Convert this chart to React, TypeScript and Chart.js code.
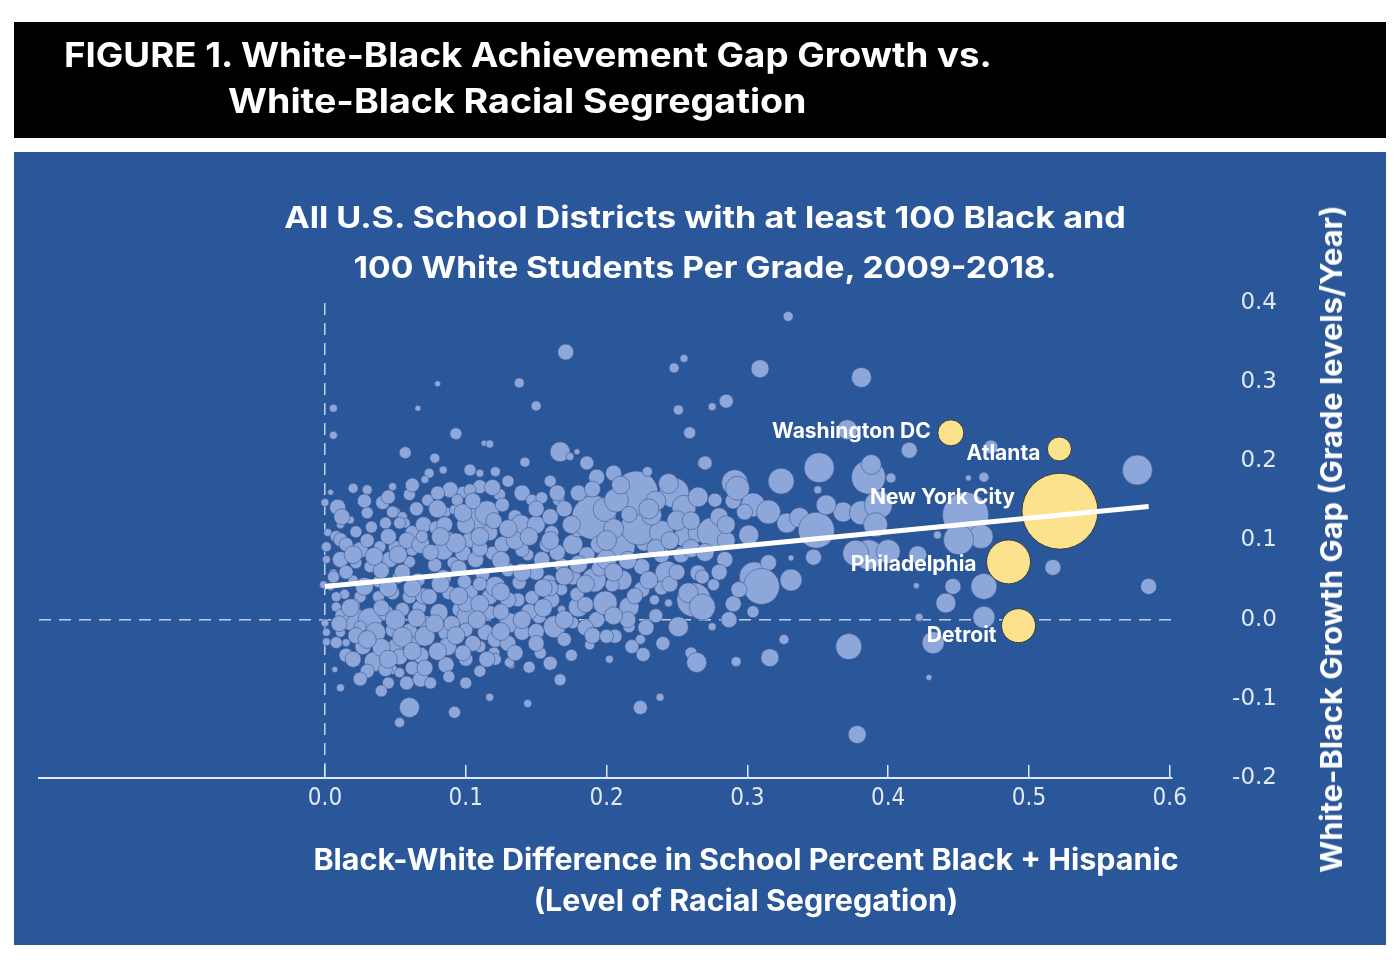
import React, { useEffect, useLayoutEffect, useRef } from 'react';
import { Chart, registerables } from 'chart.js';

Chart.register(...registerables);

// ---------- DATA ----------
// Each district: [segregation (x), growth gap (y), bubble size]
const districtsLowSeg: number[][] = [
  [0.006, 0.267, 4], [0.006, 0.233, 4], [0.057, 0.211, 6], [0.066, 0.267, 3], [0.020, 0.166, 5],
  [0.004, 0.161, 3], [0.048, 0.168, 4], [0.060, 0.158, 6], [0.009, 0.142, 8], [0.041, 0.148, 7],
  [0.000, 0.148, 4], [0.050, 0.136, 5], [0.055, 0.130, 5], [0.043, 0.122, 6], [0.057, 0.122, 5],
  [0.011, 0.120, 4], [0.018, 0.126, 4], [0.022, 0.111, 6], [0.033, 0.117, 6], [0.002, 0.110, 4],
  [0.008, 0.105, 6], [0.001, 0.092, 5], [0.025, 0.088, 8], [0.039, 0.092, 6], [0.050, 0.091, 7],
  [0.062, 0.088, 6], [0.011, 0.076, 8], [0.022, 0.072, 6], [0.046, 0.076, 8], [0.060, 0.073, 6],
  [0.006, 0.059, 4], [0.032, 0.067, 6], [0.004, 0.042, 4], [0.014, 0.032, 5], [0.025, 0.029, 6],
  [0.038, 0.029, 6], [0.048, 0.034, 7], [0.060, 0.029, 7], [0.008, 0.016, 5], [0.018, 0.003, 13],
  [0.032, 0.000, 12], [0.043, 0.009, 8], [0.055, 0.013, 7], [0.067, 0.015, 7], [0.001, -0.016, 4],
  [0.011, -0.016, 5], [0.025, -0.009, 6], [0.036, -0.016, 10], [0.048, -0.013, 7], [0.060, -0.015, 8],
  [0.008, -0.029, 6], [0.027, -0.034, 8], [0.050, -0.034, 8], [0.064, -0.029, 6], [0.035, -0.053, 10],
  [0.053, -0.047, 8], [0.062, -0.061, 7], [0.007, -0.063, 3], [0.048, -0.063, 5], [0.053, -0.067, 5],
  [0.011, -0.086, 4], [0.060, -0.111, 10], [0.053, -0.130, 5], [0.011, 0.101, 7], [0.001, 0.076, 4],
  [0.006, 0.054, 6], [-0.001, 0.044, 4], [0.008, 0.029, 5], [0.000, -0.004, 4], [0.001, -0.028, 4],
  [0.015, -0.029, 4], [0.043, -0.063, 7], [0.066, 0.050, 7], [0.052, 0.053, 6], [0.038, 0.048, 6],
  [0.020, 0.050, 5], [0.030, 0.164, 5], [0.062, 0.110, 7], [0.048, 0.136, 6], [0.053, 0.122, 6],
  [0.015, -0.045, 7], [0.022, -0.020, 8], [0.040, -0.035, 9], [0.030, -0.065, 7], [0.045, -0.080, 6],
  [0.058, -0.080, 7], [0.068, -0.045, 8], [0.072, -0.005, 8], [0.040, 0.015, 8], [0.020, 0.018, 7],
  [0.070, 0.030, 8], [0.012, 0.005, 7], [0.015, 0.095, 7], [0.030, 0.100, 7], [0.045, 0.105, 8],
  [0.058, 0.100, 8], [0.070, 0.120, 8], [0.015, 0.060, 7], [0.040, 0.062, 8], [0.055, 0.060, 8],
  [0.030, 0.135, 6], [0.065, 0.140, 7],
  [0.012, 0.130, 8], [0.028, 0.150, 7], [0.045, 0.155, 7], [0.062, 0.170, 7], [0.020, 0.082, 9],
  [0.035, 0.080, 9], [0.052, 0.082, 9], [0.068, 0.095, 9], [0.028, 0.042, 9], [0.045, 0.040, 9],
  [0.062, 0.040, 9], [0.018, 0.015, 9], [0.050, 0.000, 10], [0.065, 0.002, 9], [0.010, -0.005, 8],
  [0.030, -0.025, 9], [0.055, -0.022, 10], [0.020, -0.050, 8], [0.045, -0.050, 9], [0.062, -0.040, 9],
  [0.025, -0.075, 7], [0.040, -0.090, 6], [0.068, -0.075, 8],
];

const districtsMidSeg: number[][] = [
  [0.078, 0.204, 5], [0.089, 0.164, 8], [0.098, 0.161, 6], [0.110, 0.168, 7], [0.074, 0.185, 5],
  [0.084, 0.189, 4], [0.103, 0.189, 6], [0.110, 0.185, 4], [0.121, 0.187, 5], [0.071, 0.177, 4],
  [0.093, 0.235, 6], [0.113, 0.223, 3], [0.117, 0.222, 4], [0.080, 0.298, 3], [0.138, 0.299, 5],
  [0.150, 0.270, 5], [0.171, 0.338, 8], [0.110, 0.130, 14], [0.086, 0.136, 5], [0.092, 0.139, 5],
  [0.079, 0.116, 7], [0.069, 0.105, 6], [0.088, 0.101, 8], [0.103, 0.101, 8], [0.117, 0.110, 8],
  [0.084, 0.088, 10], [0.098, 0.084, 8], [0.078, 0.069, 7], [0.091, 0.072, 6], [0.107, 0.076, 8],
  [0.119, 0.084, 7], [0.074, 0.029, 8], [0.088, 0.034, 7], [0.103, 0.034, 8], [0.117, 0.029, 8],
  [0.081, 0.009, 9], [0.096, 0.013, 8], [0.103, 0.004, 13], [0.117, 0.009, 7], [0.071, -0.021, 10],
  [0.086, -0.016, 8], [0.100, -0.013, 7], [0.114, -0.016, 8], [0.110, -0.034, 6], [0.120, -0.042, 6],
  [0.142, 0.199, 5], [0.124, 0.158, 6], [0.140, 0.160, 8], [0.147, 0.151, 6], [0.154, 0.154, 6],
  [0.166, 0.151, 6], [0.167, 0.212, 10], [0.179, 0.212, 3], [0.174, 0.206, 4], [0.186, 0.198, 7],
  [0.193, 0.180, 8], [0.188, 0.154, 6], [0.115, 0.135, 12], [0.135, 0.130, 7], [0.161, 0.110, 7],
  [0.176, 0.095, 10], [0.180, 0.117, 10], [0.191, 0.129, 22], [0.199, 0.139, 12], [0.121, 0.042, 10],
  [0.138, 0.047, 7], [0.159, 0.048, 7], [0.176, 0.054, 8], [0.191, 0.050, 12], [0.126, 0.095, 8],
  [0.139, 0.120, 10], [0.131, -0.004, 10], [0.121, -0.025, 8], [0.140, -0.016, 8], [0.152, 0.004, 7],
  [0.163, -0.009, 11], [0.168, 0.013, 4], [0.176, -0.004, 6], [0.180, 0.016, 10], [0.193, 0.000, 8],
  [0.121, -0.050, 6], [0.132, -0.057, 4], [0.137, 0.025, 7], [0.154, 0.076, 8], [0.168, 0.069, 7],
  [0.144, 0.082, 6], [0.130, 0.063, 7], [0.071, -0.061, 8], [0.086, -0.057, 8], [0.088, -0.072, 6],
  [0.087, -0.034, 9], [0.092, -0.117, 6], [0.117, -0.098, 4], [0.131, -0.054, 5], [0.153, -0.042, 6],
  [0.167, -0.076, 6], [0.144, -0.106, 4], [0.188, -0.032, 5], [0.093, 0.097, 10], [0.084, 0.053, 8],
  [0.099, 0.048, 7], [0.112, 0.057, 7], [0.130, 0.025, 8], [0.147, 0.028, 7], [0.161, 0.025, 8],
  [0.179, 0.032, 7], [0.140, 0.088, 7], [0.158, 0.095, 8], [0.186, 0.082, 8], [0.073, 0.151, 6],
  [0.126, 0.145, 7], [0.094, 0.151, 6], [0.185, 0.019, 8], [0.168, 0.038, 6], [0.103, 0.164, 6],
  [0.119, 0.167, 8], [0.085, 0.120, 8], [0.075, 0.085, 8], [0.100, 0.120, 9], [0.120, 0.125, 8],
  [0.080, 0.160, 7], [0.095, 0.065, 8], [0.110, 0.090, 8], [0.125, 0.075, 9], [0.135, 0.100, 9],
  [0.150, 0.120, 9], [0.160, 0.130, 8], [0.170, 0.140, 8], [0.150, 0.060, 8], [0.165, 0.085, 8],
  [0.180, 0.070, 9], [0.195, 0.095, 9], [0.195, 0.065, 8], [0.100, 0.020, 8], [0.110, 0.045, 7],
  [0.125, 0.010, 8], [0.145, 0.010, 8], [0.160, 0.040, 8], [0.090, -0.005, 8], [0.105, -0.030, 8],
  [0.130, -0.030, 8], [0.150, -0.015, 8], [0.170, -0.025, 7], [0.185, -0.010, 8], [0.100, -0.050, 7],
  [0.110, -0.065, 6], [0.145, -0.060, 6], [0.160, -0.055, 7], [0.175, -0.045, 6], [0.180, 0.160, 8],
  [0.160, 0.175, 6], [0.130, 0.175, 6],
  [0.080, 0.140, 9], [0.098, 0.135, 9], [0.082, 0.045, 9], [0.095, 0.030, 9], [0.110, 0.020, 9],
  [0.125, 0.035, 9], [0.140, 0.060, 9], [0.155, 0.040, 9], [0.170, 0.055, 9], [0.185, 0.045, 9],
  [0.078, -0.005, 9], [0.093, -0.020, 9], [0.108, 0.000, 9], [0.125, -0.015, 9], [0.140, 0.000, 9],
  [0.155, 0.015, 9], [0.170, 0.000, 9], [0.190, -0.020, 8], [0.080, -0.040, 9], [0.098, -0.042, 8],
  [0.115, -0.050, 8], [0.135, -0.042, 8], [0.150, -0.030, 8], [0.082, 0.105, 9], [0.110, 0.105, 9],
  [0.130, 0.115, 9], [0.145, 0.105, 9], [0.160, 0.100, 9], [0.175, 0.120, 9], [0.105, 0.150, 8],
  [0.150, 0.140, 8], [0.165, 0.160, 8], [0.190, 0.165, 8], [0.075, -0.080, 6], [0.100, -0.080, 6],
];

const districtsUpperSeg: number[][] = [
  [0.199, 0.021, 12], [0.216, 0.016, 10], [0.206, -0.021, 7], [0.216, -0.009, 6], [0.224, -0.025, 5],
  [0.200, -0.021, 7], [0.218, -0.034, 7], [0.226, -0.044, 7], [0.202, -0.050, 4], [0.224, -0.111, 7],
  [0.238, -0.098, 4], [0.234, 0.025, 5], [0.244, 0.021, 4], [0.251, -0.009, 10], [0.262, 0.025, 17],
  [0.258, 0.034, 10], [0.260, -0.042, 6], [0.264, -0.054, 10], [0.211, 0.050, 10], [0.243, 0.059, 12],
  [0.265, 0.059, 8], [0.211, 0.092, 13], [0.227, 0.098, 9], [0.223, 0.117, 18], [0.239, 0.110, 12],
  [0.255, 0.105, 10], [0.221, 0.160, 22], [0.248, 0.160, 15], [0.255, 0.142, 12], [0.229, 0.187, 5],
  [0.268, 0.198, 5], [0.251, 0.265, 5], [0.259, 0.236, 6], [0.248, 0.318, 5], [0.255, 0.330, 4],
  [0.275, 0.269, 4], [0.285, 0.276, 7], [0.270, 0.198, 7], [0.265, 0.155, 10], [0.277, 0.151, 7],
  [0.265, 0.110, 10], [0.275, 0.110, 15], [0.284, 0.076, 8], [0.268, 0.054, 7], [0.276, 0.044, 6],
  [0.268, 0.016, 13], [0.287, 0.000, 8], [0.275, -0.009, 4], [0.292, -0.053, 5], [0.232, 0.132, 10],
  [0.207, 0.151, 12], [0.239, 0.082, 8], [0.200, 0.076, 10], [0.225, 0.067, 8], [0.253, 0.082, 8],
  [0.204, 0.044, 7], [0.225, 0.038, 8], [0.239, 0.040, 7], [0.244, 0.172, 10], [0.216, 0.133, 8],
  [0.205, 0.115, 10], [0.215, 0.075, 9], [0.235, 0.090, 9], [0.250, 0.125, 10], [0.260, 0.090, 9],
  [0.280, 0.130, 9], [0.285, 0.100, 9], [0.215, 0.000, 8], [0.235, 0.005, 7], [0.245, 0.045, 8],
  [0.280, 0.060, 8], [0.290, 0.020, 8], [0.205, 0.185, 8], [0.235, 0.150, 10],
  [0.200, 0.100, 10], [0.205, 0.060, 9], [0.230, 0.050, 9], [0.250, 0.060, 8], [0.245, 0.100, 9],
  [0.260, 0.125, 9], [0.270, 0.085, 9], [0.285, 0.120, 9], [0.290, 0.150, 8], [0.220, 0.030, 8],
  [0.205, 0.005, 9], [0.228, -0.010, 8], [0.240, -0.030, 7], [0.210, 0.170, 9], [0.230, 0.140, 10],
];

const districtsHighSeg: number[][] = [
  [0.291, 0.173, 13], [0.293, 0.166, 12], [0.304, 0.145, 12], [0.298, 0.136, 8], [0.315, 0.136, 12],
  [0.301, 0.107, 10], [0.328, 0.122, 10], [0.337, 0.129, 10], [0.349, 0.113, 18], [0.347, 0.079, 8],
  [0.331, 0.078, 3], [0.305, 0.054, 15], [0.315, 0.072, 8], [0.310, 0.042, 18], [0.331, 0.050, 11],
  [0.294, 0.038, 8], [0.304, 0.010, 6], [0.326, -0.025, 5], [0.316, -0.048, 9], [0.309, 0.317, 9],
  [0.329, 0.383, 5], [0.324, 0.175, 13], [0.351, 0.192, 15], [0.381, 0.306, 10], [0.386, 0.180, 17],
  [0.388, 0.196, 10], [0.402, 0.179, 5], [0.350, 0.164, 4], [0.368, 0.136, 10], [0.381, 0.135, 12],
  [0.386, 0.082, 15], [0.377, 0.084, 13], [0.372, -0.034, 13], [0.378, -0.145, 9], [0.371, 0.240, 10],
  [0.393, 0.145, 14], [0.391, 0.120, 12], [0.356, 0.145, 10], [0.415, 0.214, 8], [0.473, 0.218, 7],
  [0.457, 0.179, 3], [0.468, 0.180, 5], [0.577, 0.189, 15], [0.455, 0.132, 23], [0.466, 0.105, 12],
  [0.450, 0.101, 15], [0.435, 0.107, 4], [0.421, 0.082, 9], [0.517, 0.066, 8], [0.585, 0.042, 8],
  [0.468, 0.042, 13], [0.446, 0.042, 8], [0.441, 0.021, 10], [0.420, 0.043, 3], [0.422, 0.003, 4],
  [0.468, 0.003, 11], [0.432, -0.029, 11], [0.429, -0.073, 3], [0.400, 0.086, 12],
];

const cityNames = ['Washington DC', 'Atlanta', 'New York City', 'Philadelphia', 'Detroit'];
const citySeg = [0.4445, 0.5216, 0.522, 0.4855, 0.4926];
const cityGap = [0.236, 0.2156, 0.137, 0.073, -0.0076];
const citySize = [13, 12, 38, 22, 17];

const trendSeg = [0.0, 0.585];
const trendGap = [0.042, 0.143];

const xTickValues = [0, 0.1, 0.2, 0.3, 0.4, 0.5, 0.6];

const headerLines = ['FIGURE 1. White-Black Achievement Gap Growth vs.', 'White-Black Racial Segregation'];
const chartTitleLines = ['All U.S. School Districts with at least 100 Black and', '100 White Students Per Grade, 2009-2018.'];
const xTitleLines = ['Black-White Difference in School Percent Black + Hispanic', '(Level of Racial Segregation)'];
const yTitle = 'White-Black Growth Gap (Grade levels/Year)';

// ---------- STYLE ----------
const PANEL = '#2a569a';
const BUBBLE = '#8ea7da';
const YELLOW = '#fce28c';
const AXIS = '#e2e8f3';
const DASH = '#c3cfe8';
const TITLE_FONT = 'Inter, "Open Sans", "Noto Sans", sans-serif';

// label offsets (style)
const labelGap = [7, 7, 7, 10, 5];
const labelDy = [-1.5, 5, -14, 2.5, 10.5];

function FitText(props: any) {
  const { text, x, y, width, size, anchor = 'center', rotate = 0 } = props;
  const ref = useRef<HTMLDivElement>(null);
  useLayoutEffect(() => {
    const el = ref.current;
    if (!el) return;
    const s = width / el.offsetWidth;
    if (anchor === 'left') {
      el.style.transformOrigin = '0 50%';
      el.style.transform = `translateY(-50%) scaleX(${s})`;
    } else {
      el.style.transformOrigin = '50% 50%';
      el.style.transform = `translate(-50%, -50%) rotate(${rotate}deg) scaleX(${s})`;
    }
  }, [text, width, anchor, rotate]);
  return (
    <div
      ref={ref}
      style={{
        position: 'absolute',
        left: x,
        top: y,
        whiteSpace: 'nowrap',
        fontFamily: TITLE_FONT,
        fontWeight: 700,
        fontSize: size,
        lineHeight: 1,
        color: '#ffffff',
        zIndex: 3,
      }}
    >
      {text}
    </div>
  );
}

const isZero = (v: number) => Math.abs(v) < 1e-9;
const fmt = (v: any) => (isZero(Number(v)) ? '0.0' : Number(v).toFixed(1));

const cityLabelPlugin = {
  id: 'cityLabels',
  afterDatasetsDraw(chart: any) {
    const meta = chart.getDatasetMeta(1);
    const ctx = chart.ctx;
    ctx.save();
    ctx.font = `700 21px ${TITLE_FONT}`;
    ctx.fillStyle = '#ffffff';
    ctx.textAlign = 'right';
    ctx.textBaseline = 'middle';
    meta.data.forEach((el: any, i: number) => {
      ctx.fillText(cityNames[i], el.x - citySize[i] - labelGap[i], el.y + labelDy[i]);
    });
    ctx.restore();
  },
};

export default function App() {
  const canvasRef = useRef<HTMLCanvasElement>(null);

  useEffect(() => {
    const canvas = canvasRef.current;
    if (!canvas) return;
    const districts = [...districtsLowSeg, ...districtsMidSeg, ...districtsUpperSeg, ...districtsHighSeg];
    const chart = new Chart(canvas, {
      type: 'bubble',
      data: {
        datasets: [
          {
            type: 'line',
            label: 'Trend',
            data: trendSeg.map((x, i) => ({ x, y: trendGap[i] })),
            borderColor: '#ffffff',
            borderWidth: 5,
            pointRadius: 0,
            borderCapStyle: 'butt',
            order: 0,
            clip: false,
          } as any,
          {
            label: 'Cities',
            data: citySeg.map((x, i) => ({ x, y: cityGap[i], r: citySize[i] })),
            backgroundColor: YELLOW,
            borderColor: '#3b3b3b',
            borderWidth: 1,
            order: 1,
            clip: false,
          } as any,
          {
            label: 'Districts',
            data: districts.map(([x, y, r]) => ({ x, y, r })),
            backgroundColor: BUBBLE,
            borderColor: 'rgba(62,88,142,0.75)',
            borderWidth: 0.8,
            order: 2,
            clip: false,
          } as any,
        ],
      },
      options: {
        animation: false,
        responsive: false,
        maintainAspectRatio: false,
        events: [],
        layout: { padding: { left: 35, top: 303, right: 123, bottom: 137 } },
        plugins: {
          legend: { display: false },
          tooltip: { enabled: false },
          title: { display: false },
        },
        scales: {
          x: {
            type: 'linear',
            position: 'bottom',
            min: -0.2031,
            max: 0.6016,
            afterBuildTicks: (s: any) => {
              s.ticks = xTickValues.map((v) => ({ value: v }));
            },
            afterFit: (s: any) => {
              s.height = 60;
            },
            ticks: {
              autoSkip: false,
              maxRotation: 0,
              padding: 19,
              color: AXIS,
              font: { family: '"Liberation Sans Narrow", "DejaVu Sans Condensed", "Liberation Sans", sans-serif', size: 24 },
              callback: (v: any) => fmt(v),
            },
            grid: {
              display: true,
              drawOnChartArea: true,
              drawTicks: true,
              tickLength: -13,
              tickColor: AXIS,
              tickWidth: 1.5,
              lineWidth: 1.5,
              color: (c: any) => (c.tick && isZero(c.tick.value) ? DASH : 'rgba(0,0,0,0)'),
            },
            border: { display: true, color: AXIS, width: 2, dash: [12, 8] },
          } as any,
          y: {
            type: 'linear',
            position: 'right',
            min: -0.2,
            max: 0.4,
            afterFit: (s: any) => {
              s.width = 105;
            },
            ticks: {
              stepSize: 0.1,
              padding: 60,
              crossAlign: 'far',
              color: AXIS,
              font: { family: '"DejaVu Sans", sans-serif', size: 23 },
              callback: (v: any) => fmt(v),
            },
            grid: {
              display: true,
              drawOnChartArea: true,
              drawTicks: false,
              lineWidth: 1.5,
              color: (c: any) => (c.tick && isZero(c.tick.value) ? DASH : 'rgba(0,0,0,0)'),
            },
            border: { display: false, dash: [12, 8] },
          } as any,
        },
      } as any,
      plugins: [cityLabelPlugin],
    });
    return () => chart.destroy();
  }, []);

  return (
    <div style={{ position: 'absolute', left: 0, top: 0, width: 1400, height: 975, background: '#ffffff', overflow: 'hidden' }}>
      <div style={{ position: 'absolute', left: 14, top: 22, width: 1372, height: 116, background: '#000000' }} />
      <div style={{ position: 'absolute', left: 14, top: 152, width: 1372, height: 793, background: PANEL }} />
      <canvas
        ref={canvasRef}
        width={1400}
        height={975}
        style={{ position: 'absolute', left: 0, top: 0, width: 1400, height: 975, zIndex: 2 }}
      />
      <FitText text={headerLines[0]} x={64} y={55} width={928} size={34} anchor="left" />
      <FitText text={headerLines[1]} x={228} y={101} width={578} size={34} anchor="left" />
      <FitText text={chartTitleLines[0]} x={705} y={217} width={842} size={30} />
      <FitText text={chartTitleLines[1]} x={704.5} y={267} width={703} size={30} />
      <FitText text={xTitleLines[0]} x={745.5} y={859} width={865} size={30} />
      <FitText text={xTitleLines[1]} x={745.5} y={900} width={425} size={30} />
      <FitText text={yTitle} x={1331} y={538.5} width={667} size={30} rotate={-90} />
    </div>
  );
}
